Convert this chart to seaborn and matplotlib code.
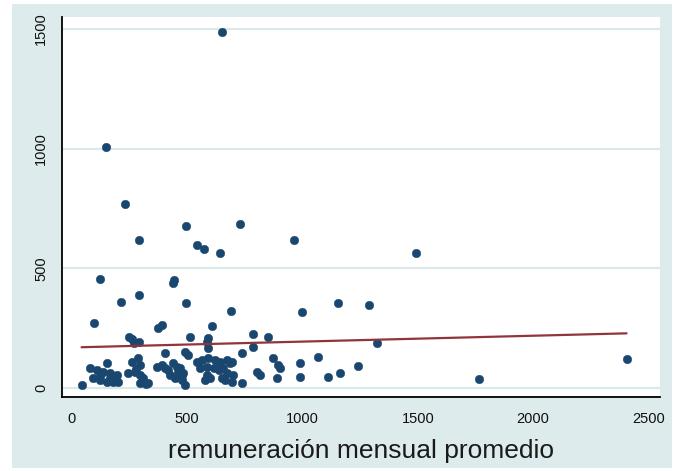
import matplotlib
matplotlib.use("Agg")
import matplotlib.pyplot as plt
from matplotlib.patches import Rectangle
import pandas as pd
import seaborn as sns

# Average monthly pay (x) against the outcome value (y) for each unit
remuneracion = [
    650, 146, 229, 495, 727, 293, 965, 544, 572, 642, 1490, 120, 442, 438,
    293, 212, 493, 1155, 1288, 690, 996,
    95, 372, 392, 608, 246, 262, 512, 591, 786, 851,
    290, 270, 584, 786, 1321,
    42, 78, 92, 107, 121, 136, 150, 150, 165, 179, 194, 201, 121, 165,
    244, 259, 273, 288, 295, 295, 309, 331, 295, 320, 280,
    367, 389, 403, 418, 439, 454, 461, 476, 425, 447, 476, 490, 403, 490,
    504, 468, 483,
    541, 562, 591, 620, 642, 671, 685, 692, 556, 585, 614, 636, 657, 671,
    700, 585, 577, 599, 649, 664, 692, 736, 591, 736,
    801, 816, 873, 895, 902, 888, 989, 989,
    1068, 1111, 1162, 1242, 1765, 2405,
]
valor = [
    1487, 1005, 770, 676, 686, 620, 619, 597, 580, 563, 563, 456, 451, 437,
    390, 361, 356, 355, 348, 321, 316,
    272, 249, 262, 257, 214, 204, 214, 210, 224, 214,
    190, 188, 193, 173, 187,
    12, 82, 40, 75, 33, 68, 26, 103, 61, 26, 54, 26, 50, 40,
    61, 110, 68, 124, 96, 54, 40, 20, 20, 15, 80,
    89, 96, 82, 75, 103, 89, 68, 54, 54, 40, 33, 13, 145, 152,
    138, 82, 61,
    110, 117, 124, 117, 110, 117, 103, 110, 82, 89, 82, 75, 82, 61,
    54, 54, 33, 40, 40, 33, 26, 19, 166, 145,
    68, 54, 124, 96, 82, 40, 103, 47,
    131, 44, 64, 93, 36, 120,
]

# Linear fit over the range of the data
fit_x = [42, 2405]
fit_y = [170, 228]

x_ticks = [0, 500, 1000, 1500, 2000, 2500]
y_ticks = [0, 500, 1000, 1500]
x_label = "remuneración mensual promedio"

navy = "#1a476f"
maroon = "#90353b"
backdrop = "#deebec"
grid_color = "#dce9ea"

sns.set_theme(style="white")
plt.rcParams["font.family"] = ["Liberation Sans", "DejaVu Sans"]

W, H = 678, 471
fig = plt.figure(figsize=(W / 100, H / 100), dpi=100, facecolor="white")
frame = Rectangle((12 / W, 1 - 468 / H), 660 / W, 464 / H,
                  transform=fig.transFigure, facecolor=backdrop,
                  edgecolor="none", zorder=-10)
fig.add_artist(frame)

ax = fig.add_axes([62 / W, 1 - 397 / H, 598 / W, 380 / H])
ax.set_zorder(1)
ax.set_facecolor("white")

for yv in y_ticks:
    ax.axhline(yv, color=grid_color, lw=1.6, zorder=0)

df = pd.DataFrame({"remuneracion": remuneracion, "valor": valor})
sns.scatterplot(data=df, x="remuneracion", y="valor", ax=ax, color=navy,
                s=38, marker="o", edgecolor=navy, linewidth=0.3,
                zorder=3, legend=False)
fit = pd.DataFrame({"x": fit_x, "y": fit_y})
sns.lineplot(data=fit, x="x", y="y", ax=ax, color=maroon, lw=1.6,
             zorder=4, legend=False)

ax.set_xlim(-43, 2550)
ax.set_ylim(-38, 1550)
ax.set_xticks(x_ticks)
ax.set_yticks(y_ticks)
ax.set_xticklabels([str(v) for v in x_ticks], fontsize=10.5)
ax.set_yticklabels([str(v) for v in y_ticks], fontsize=10.5, rotation=90,
                   va="center")
ax.tick_params(axis="both", direction="out", length=5, width=1.2,
               color="black", labelcolor="#111111")
ax.tick_params(axis="x", pad=6)
ax.tick_params(axis="y", pad=5)

for side in ("top", "right"):
    ax.spines[side].set_visible(False)
for side in ("left", "bottom"):
    ax.spines[side].set_color("black")
    ax.spines[side].set_linewidth(1.3)

ax.set_xlabel(x_label, fontsize=19, labelpad=9, color="#1a1a1a")
ax.set_ylabel("")

fig.savefig("out.png", dpi=100, facecolor=fig.get_facecolor())
